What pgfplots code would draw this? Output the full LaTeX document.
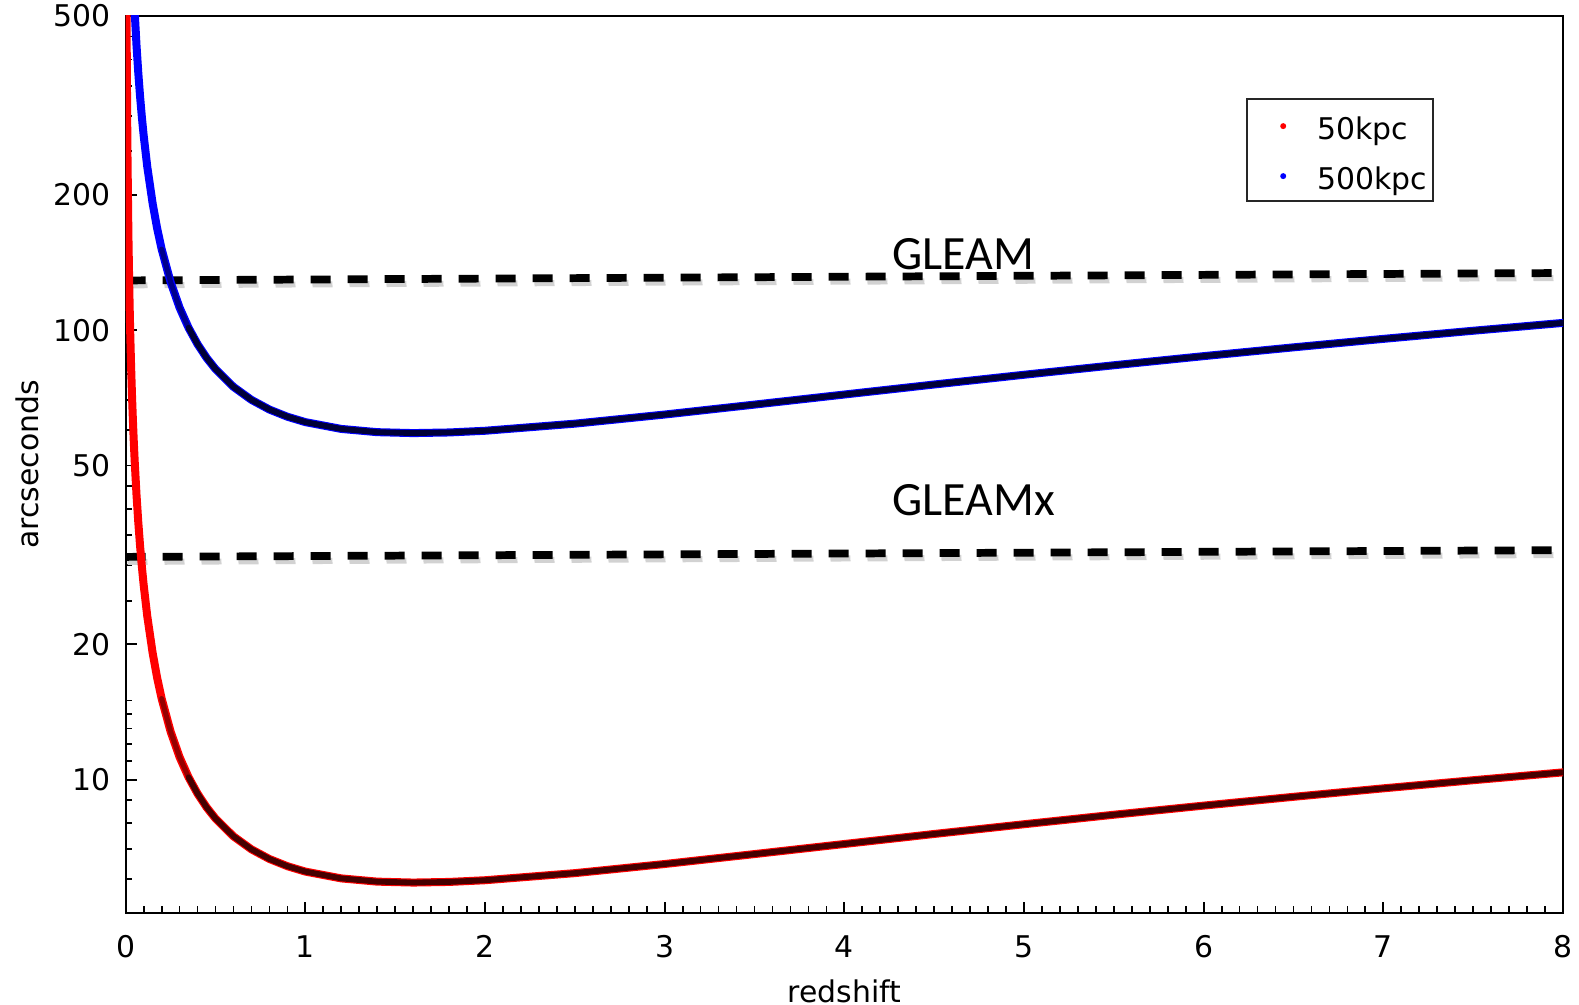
\documentclass[border=0pt]{standalone}
\usepackage{fontspec}
\setmainfont{DejaVu Sans}
\newfontfamily\gleamfont{Carlito}
\usepackage{pgfplots}
\usepackage{pgfplotstable}
\pgfplotsset{compat=1.18}
\definecolor{navyc}{RGB}{0,0,55}
\definecolor{midblue}{RGB}{0,0,140}
\definecolor{maroonc}{RGB}{70,0,0}
\definecolor{midred}{RGB}{150,0,0}

\pgfplotstableread{
z th
0.040 632
0.045 565
0.050 511.6
0.060 431.3
0.070 374.1
0.080 331.2
0.090 297.8
0.100 271.1
0.120 231.1
0.150 191.3
0.175 168.5
0.200 151.5
0.250 127.9
0.300 112.2
0.350 101.2
0.400 93.06
0.450 86.81
0.500 81.91
0.600 74.79
0.700 69.97
0.800 66.59
0.900 64.18
1.000 62.43
1.200 60.29
1.400 59.30
1.600 59.02
1.800 59.21
2.000 59.73
2.500 61.94
3.000 64.91
3.500 68.30
4.000 71.92
4.500 75.70
5.000 79.58
5.500 83.54
6.000 87.54
6.500 91.57
7.000 95.63
7.500 99.70
8.000 103.79
}\bluetab

\pgfplotstableread{
z th
0.0048 504
0.006 404
0.008 304
0.010 243.5
0.015 163.3
0.020 123.4
0.025 99.2
0.030 83.2
0.035 71.7
0.040 63.2
0.045 56.5
0.050 51.16
0.060 43.13
0.070 37.41
0.080 33.12
0.090 29.78
0.100 27.11
0.120 23.11
0.150 19.13
0.175 16.85
0.200 15.15
0.250 12.79
0.300 11.22
0.350 10.12
0.400 9.306
0.450 8.681
0.500 8.191
0.600 7.479
0.700 6.997
0.800 6.659
0.900 6.418
1.000 6.243
1.200 6.029
1.400 5.930
1.600 5.902
1.800 5.921
2.000 5.973
2.500 6.194
3.000 6.491
3.500 6.830
4.000 7.192
4.500 7.570
5.000 7.958
5.500 8.354
6.000 8.754
6.500 9.157
7.000 9.563
7.500 9.970
8.000 10.379
}\redtab

\begin{document}
\begin{tikzpicture}
\path[use as bounding box] (-12.57mm,-9.2mm) rectangle (145.33mm,91.3mm);
\begin{axis}[
  at={(0,0)}, anchor=south west,
  scale only axis, width=143.73mm, height=89.7mm,
  ymode=log,
  xmin=0, xmax=8, ymin=5.05, ymax=500,
  xtick={0,1,2,3,4,5,6,7,8},
  xticklabels={0,1,2,3,4,5,6,7,8},
  minor x tick num=9,
  ytick={10,20,50,100,200,500},
  yticklabels={10,20,50,100,200,500},
  minor ytick={6,7,8,9,11,12,13,14,15,25,30,35,40,45,60,70,80,90,110,120,130,140,150,160,250,300,350,400,450},
  tick pos=left,
  tick align=inside,
  major tick length=1.1mm,
  minor tick length=0.65mm,
  axis line style={line width=0.6pt},
  tick style={black, line width=0.5pt},
  ticklabel style={font=\fontsize{8.5}{10}\selectfont},
  xticklabel style={yshift=-1.0mm},
  yticklabel style={xshift=-0.3mm},
  xlabel={redshift}, ylabel={arcseconds},
  label style={font=\fontsize{8.5}{10}\selectfont},
  xlabel style={at={(axis description cs:0.5,-0.087)}, anchor=center},
  ylabel style={at={(axis description cs:-0.0687,0.5)}, anchor=center},
  legend style={at={(axis description cs:0.7795,0.9086)}, anchor=north west,
    draw=black!85, line width=0.65pt, fill=white,
    inner xsep=0.6mm, inner ysep=1.2mm, row sep=2.2mm,
    font=\fontsize{8.5}{10}\selectfont,
    nodes={inner sep=0pt, text height=2.8mm, text depth=0mm},
    /tikz/every odd column/.append style={column sep=0.4mm}},
  legend cell align=left,
]
\addlegendimage{legend image code/.code={\fill[red, draw=none] (3.0mm,-0.1mm) circle (0.3mm); \path[draw=none, fill=none] (0mm,-0.1mm) (6mm,-0.1mm);}}
\addlegendentry{50kpc}
\addlegendimage{legend image code/.code={\fill[blue, draw=none] (3.0mm,-0.1mm) circle (0.3mm); \path[draw=none, fill=none] (0mm,-0.1mm) (6mm,-0.1mm);}}
\addlegendentry{500kpc}

% dashed reference lines (with soft shadow)
\addplot[gray!35, line width=1.7pt, dash pattern=on 2mm off 1.7mm, forget plot] coordinates {(0.01,125.8) (8,130.6)};
\addplot[gray!35, line width=1.7pt, dash pattern=on 2mm off 1.7mm, forget plot] coordinates {(0.01,30.5) (8,31.6)};
\addplot[black, line width=2.2pt, dash pattern=on 2mm off 1.7mm, forget plot] coordinates {(0,129) (8,134)};
\addplot[black, line width=2.2pt, dash pattern=on 2mm off 1.7mm, forget plot] coordinates {(0,31.3) (8,32.4)};

% 50 kpc
\addplot[red, line width=0.8mm, line join=round, line cap=round, forget plot] table[x=z, y=th] {\redtab};
\addplot[midred, line width=0.5mm, line join=round, line cap=round, forget plot, restrict x to domain=0.2:0.4] table[x=z, y=th] {\redtab};
\addplot[maroonc, line width=0.58mm, line join=round, line cap=round, forget plot, restrict x to domain=0.35:8] table[x=z, y=th] {\redtab};
% 500 kpc
\addplot[blue, line width=0.8mm, line join=round, line cap=round, forget plot] table[x=z, y=th] {\bluetab};
\addplot[midblue, line width=0.5mm, line join=round, line cap=round, forget plot, restrict x to domain=0.2:0.4] table[x=z, y=th] {\bluetab};
\addplot[navyc, line width=0.58mm, line join=round, line cap=round, forget plot, restrict x to domain=0.35:8] table[x=z, y=th] {\bluetab};

\node[anchor=base west, inner sep=0pt, font=\gleamfont\fontsize{13.6}{16}\selectfont] at (axis cs:4.264,136.7) {GLEAM};
\node[anchor=base west, inner sep=0pt, font=\gleamfont\fontsize{13.6}{16}\selectfont] at (axis cs:4.264,38.7) {GLEAMx};
\end{axis}
\end{tikzpicture}
\end{document}
